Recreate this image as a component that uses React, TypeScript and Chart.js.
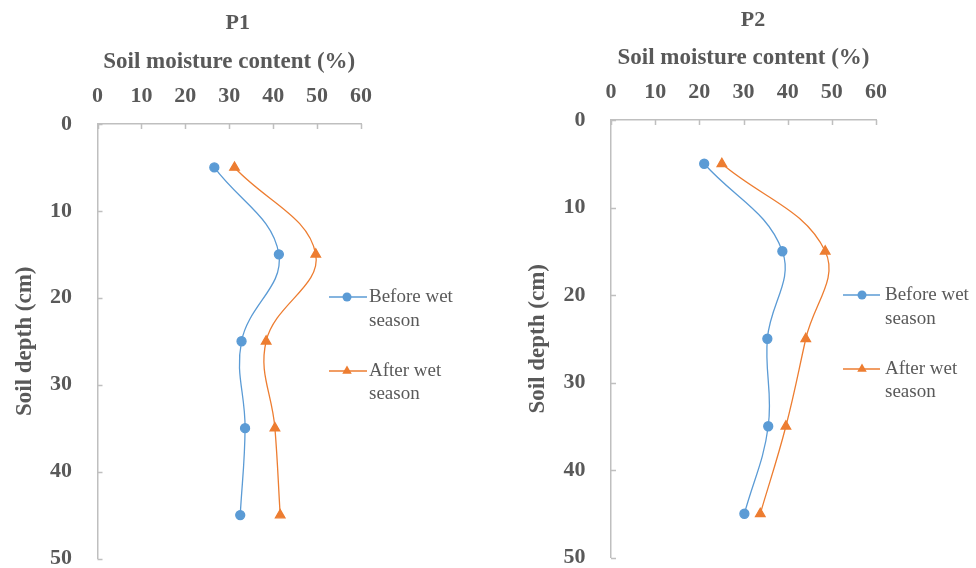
import React, { useEffect, useRef } from "react";
import { Chart, registerables } from "chart.js";

Chart.register(...registerables);

// ---- data ----
const depths = [5, 15, 25, 35, 45];
const p1Before = [26.6, 41.3, 32.8, 33.6, 32.5];
const p1After = [31.2, 49.7, 38.4, 40.4, 41.6];
const p2Before = [21.1, 38.8, 35.4, 35.6, 30.2];
const p2After = [25.1, 48.5, 44.1, 39.6, 33.8];
const seriesNames = ["Before wet season", "After wet season"];
const legendLines = [["Before wet", "season"], ["After wet", "season"]];
const panelTitles = ["P1", "P2"];
const xAxisTitle = "Soil moisture content (%)";
const yAxisTitle = "Soil depth (cm)";

const BLUE = "#5B9BD5";
const ORANGE = "#ED7D31";
const TEXT = "#595959";
const AXIS = "#BFBFBF";
const FONT = "'Liberation Serif', 'Times New Roman', serif";

type PanelLayout = {
  yAxisWidth: number;
  xAxisHeight: number;
  padRight: number;
  padBottom: number;
  yTitlePad: number;
  xTitlePad: number;
  titleDx: number;
  titleY: number;
  legLineStart: number;
  legLineEnd: number;
  legMarker: number;
  legText: number;
  legYs: number[];
};

const layouts: PanelLayout[] = [
  {
    yAxisWidth: 97.5,
    xAxisHeight: 124,
    padRight: 127,
    padBottom: 9.5,
    yTitlePad: 11.2,
    xTitlePad: 48.2,
    titleDx: 140.2,
    titleY: 23,
    legLineStart: -32,
    legLineEnd: 6,
    legMarker: -14,
    legText: 8,
    legYs: [173, 197, 247, 270],
  },
  {
    yAxisWidth: 123,
    xAxisHeight: 120,
    padRight: 100,
    padBottom: 10.5,
    yTitlePad: 36.2,
    xTitlePad: 44.2,
    titleDx: 142,
    titleY: 20,
    legLineStart: -33,
    legLineEnd: 4,
    legMarker: -14,
    legText: 9,
    legYs: [175, 199, 249, 272],
  },
];

function drawMarker(ctx: CanvasRenderingContext2D, style: string, x: number, y: number, r: number, color: string) {
  ctx.save();
  ctx.fillStyle = color;
  ctx.beginPath();
  if (style === "triangle") {
    let rad = 0;
    ctx.moveTo(x + Math.sin(rad) * r, y - Math.cos(rad) * r);
    rad += (2 * Math.PI) / 3;
    ctx.lineTo(x + Math.sin(rad) * r, y - Math.cos(rad) * r);
    rad += (2 * Math.PI) / 3;
    ctx.lineTo(x + Math.sin(rad) * r, y - Math.cos(rad) * r);
    ctx.closePath();
  } else {
    ctx.arc(x, y, r, 0, Math.PI * 2);
  }
  ctx.fill();
  ctx.restore();
}

const panelPlugin = {
  id: "panelDecor",
  afterDraw(chart: any, _args: any, opts: any) {
    const ctx: CanvasRenderingContext2D = chart.ctx;
    const area = chart.chartArea;
    const L: PanelLayout = opts.layout;
    const xs = chart.scales.x;
    const ys = chart.scales.y;
    ctx.save();
    // inside tick marks
    ctx.strokeStyle = AXIS;
    ctx.lineWidth = 1.5;
    ctx.beginPath();
    xs.ticks.forEach((t: any) => {
      const px = Math.round(xs.getPixelForValue(t.value)) + 0.5;
      ctx.moveTo(px, area.top);
      ctx.lineTo(px, area.top + 5);
    });
    ys.ticks.forEach((t: any) => {
      const py = Math.round(ys.getPixelForValue(t.value)) + 0.5;
      ctx.moveTo(area.left, py);
      ctx.lineTo(area.left + 5, py);
    });
    ctx.stroke();

    // panel title
    ctx.fillStyle = TEXT;
    ctx.font = `bold 22px ${FONT}`;
    ctx.textAlign = "center";
    ctx.textBaseline = "middle";
    ctx.fillText(opts.title, area.left + L.titleDx, L.titleY);

    // legend
    ctx.font = `19px ${FONT}`;
    ctx.textAlign = "left";
    chart.data.datasets.forEach((ds: any, i: number) => {
      const y0 = area.top + L.legYs[i * 2];
      const y1 = area.top + L.legYs[i * 2 + 1];
      ctx.strokeStyle = ds.borderColor;
      ctx.lineWidth = 1.5;
      ctx.beginPath();
      ctx.moveTo(area.right + L.legLineStart, y0);
      ctx.lineTo(area.right + L.legLineEnd, y0);
      ctx.stroke();
      drawMarker(ctx, ds.pointStyle, area.right + L.legMarker, y0, ds.pointRadius, ds.pointBackgroundColor);
      ctx.fillStyle = TEXT;
      ctx.fillText(legendLines[i][0], area.right + L.legText, y0);
      ctx.fillText(legendLines[i][1], area.right + L.legText, y1);
    });
    ctx.restore();
  },
};

function toPoints(values: number[]) {
  return values.map((v, i) => ({ x: v, y: depths[i] }));
}

function Panel({ idx, before, after }: { idx: number; before: number[]; after: number[] }) {
  const ref = useRef<HTMLCanvasElement | null>(null);
  useEffect(() => {
    if (!ref.current) return;
    const L = layouts[idx];
    const titleFont = { family: FONT, size: 23, weight: "bold", lineHeight: 1.2 };
    const tickFont = { family: FONT, size: 22, weight: "bold", lineHeight: 1.2 };
    const chart = new Chart(ref.current, {
      type: "scatter",
      data: {
        datasets: [
          {
            label: seriesNames[0],
            data: toPoints(before),
            showLine: true,
            tension: 0.4,
            borderColor: BLUE,
            backgroundColor: BLUE,
            pointBackgroundColor: BLUE,
            pointBorderColor: BLUE,
            borderWidth: 1.3,
            pointRadius: 4.5,
            pointStyle: "circle",
          },
          {
            label: seriesNames[1],
            data: toPoints(after),
            showLine: true,
            tension: 0.4,
            borderColor: ORANGE,
            backgroundColor: ORANGE,
            pointBackgroundColor: ORANGE,
            pointBorderColor: ORANGE,
            borderWidth: 1.3,
            pointRadius: 5.5,
            pointStyle: "triangle",
          },
        ],
      },
      options: {
        animation: false,
        responsive: true,
        maintainAspectRatio: false,
        layout: { padding: { left: 0, top: 0, right: L.padRight, bottom: L.padBottom } },
        plugins: {
          legend: { display: false },
          title: { display: false },
          tooltip: { enabled: false },
          panelDecor: { title: panelTitles[idx], layout: L },
        } as any,
        scales: {
          x: {
            type: "linear",
            position: "top",
            min: 0,
            max: 60,
            ticks: { stepSize: 10, padding: 14.8, color: TEXT, font: tickFont },
            grid: { display: true, drawOnChartArea: false, drawTicks: false },
            border: { display: true, color: AXIS, width: 1.5 },
            title: {
              display: true,
              text: xAxisTitle,
              color: TEXT,
              font: titleFont,
              padding: { top: L.xTitlePad, bottom: 0 },
            },
            afterFit: (s: any) => {
              s.height = L.xAxisHeight;
              s.paddingLeft = 0;
              s.paddingRight = 0;
            },
          },
          y: {
            type: "linear",
            reverse: true,
            min: 0,
            max: 50,
            ticks: { stepSize: 10, padding: 25.5, color: TEXT, font: tickFont },
            grid: { display: true, drawOnChartArea: false, drawTicks: false },
            border: { display: true, color: AXIS, width: 1.5 },
            title: {
              display: true,
              text: yAxisTitle,
              color: TEXT,
              font: titleFont,
              padding: { top: L.yTitlePad, bottom: 0 },
            },
            afterFit: (s: any) => {
              s.width = L.yAxisWidth;
              s.paddingTop = 0;
              s.paddingBottom = 0;
            },
          },
        },
      },
      plugins: [panelPlugin],
    } as any);
    return () => chart.destroy();
  }, [idx, before, after]);
  return (
    <div style={{ position: "relative", width: 488, height: 568 }}>
      <canvas ref={ref} />
    </div>
  );
}

export default function App() {
  return (
    <div
      style={{
        position: "fixed",
        left: 0,
        top: 0,
        width: 976,
        height: 568,
        background: "#ffffff",
        display: "flex",
      }}
    >
      <Panel idx={0} before={p1Before} after={p1After} />
      <Panel idx={1} before={p2Before} after={p2After} />
    </div>
  );
}
